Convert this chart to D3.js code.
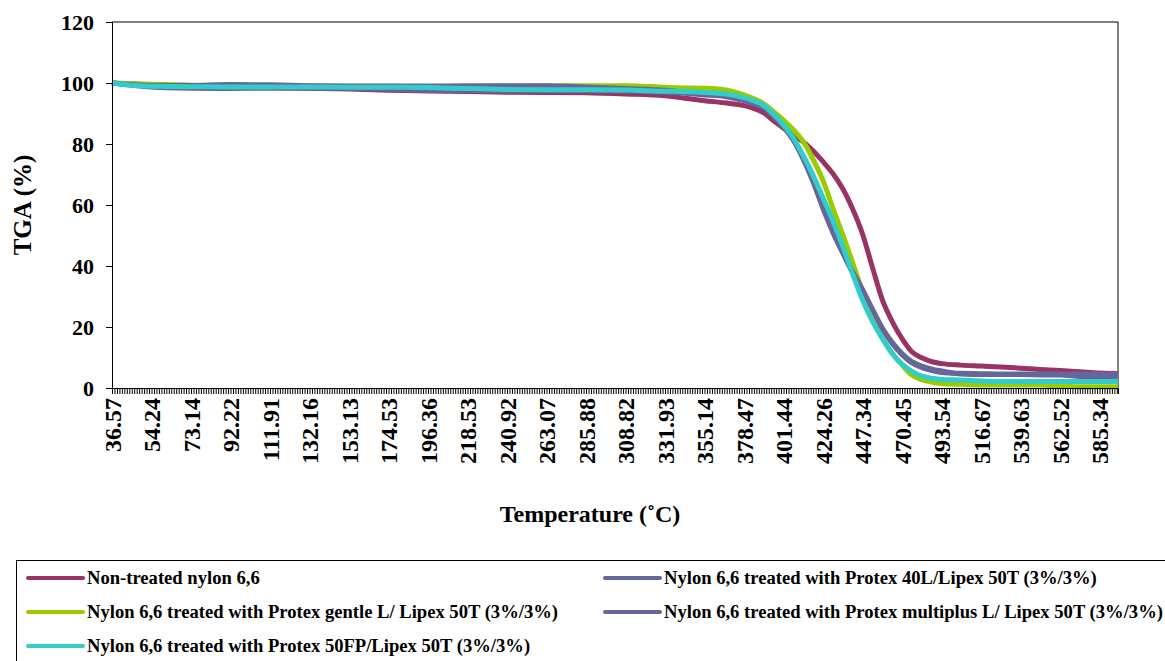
<!DOCTYPE html>
<html>
<head>
<meta charset="utf-8">
<script src="https://cdn.jsdelivr.net/npm/d3@7"></script>
<style>
  html, body { margin: 0; padding: 0; background: #fff; }
  svg { display: block; }
</style>
</head>
<body>
<svg id="chart" width="1165" height="661"></svg>
<script>
// ---- Data ----
const tickLabels = ["36.57","54.24","73.14","92.22","111.91","132.16","153.13","174.53","196.36","218.53","240.92","263.07","285.88","308.82","331.93","355.14","378.47","401.44","424.26","447.34","470.45","493.54","516.67","539.63","562.52","585.34"];
const yTicks = [0, 20, 40, 60, 80, 100, 120];

const temperatures = [36.57, 54.24, 73.14, 92.22, 111.91, 132.16, 153.13, 174.53, 196.36, 218.53, 240.92, 263.07, 285.88, 308.82, 331.93, 343.5, 355.14, 367, 378.47, 384, 390, 395.7, 401.44, 407, 413, 418.5, 424.26, 430, 435.8, 441.5, 447.34, 453, 459, 464.7, 470.45, 476, 482, 488, 493.54, 505, 516.67, 528, 539.63, 551, 562.52, 574, 585.34, 596];

const nonTreated = [100, 99.3, 99.0, 98.7, 98.5, 98.3, 98.0, 97.6, 97.4, 97.2, 97.0, 96.9, 96.8, 96.4, 95.8, 95.0, 94.2, 93.5, 92.6, 91.7, 90.2, 87.6, 85.2, 83.0, 80.6, 77.8, 74.2, 70.3, 65.3, 58.8, 50.5, 39.8, 28.8, 21.8, 16.2, 12.0, 9.9, 8.6, 8.0, 7.5, 7.2, 6.9, 6.5, 6.1, 5.7, 5.3, 4.9, 4.7];
const protex40L = [100, 98.7, 98.3, 98.2, 98.3, 98.3, 98.2, 98.0, 97.6, 97.5, 97.5, 97.5, 97.5, 97.4, 97.0, 96.6, 96.1, 95.6, 94.2, 93.2, 91.9, 89.0, 85.6, 81.3, 74.8, 67.6, 58.8, 51.0, 44.2, 37.8, 31.8, 25.5, 19.2, 14.6, 10.9, 8.3, 6.7, 5.7, 5.1, 4.8, 4.7, 4.6, 4.6, 4.6, 4.6, 4.6, 4.5, 4.5];
const protexGentle = [100, 99.6, 99.3, 99.1, 99.0, 99.0, 98.9, 98.9, 98.8, 98.8, 98.9, 99.0, 99.1, 99.1, 98.6, 98.4, 98.3, 97.8, 96.1, 94.9, 93.2, 90.6, 87.8, 84.8, 80.6, 75.0, 68.0, 59.0, 50.3, 41.2, 31.5, 22.5, 16.3, 11.4, 7.6, 4.3, 2.7, 1.9, 1.5, 1.2, 1.0, 1.0, 1.0, 1.0, 0.7, 0.4, 0.4, 0.4];
const protexMultiplus = [100, 99.2, 99.2, 99.5, 99.4, 99.1, 99.0, 99.0, 99.0, 99.1, 99.1, 99.1, 98.7, 98.2, 97.6, 97.0, 96.4, 95.8, 94.4, 93.4, 92.0, 89.2, 85.8, 81.6, 75.4, 68.2, 59.5, 51.5, 44.5, 38.2, 32.3, 26.0, 19.6, 15.0, 11.3, 8.7, 7.2, 6.2, 5.6, 4.6, 4.4, 4.4, 4.4, 4.3, 4.3, 3.8, 3.7, 3.7];
const protex50FP = [100, 98.9, 98.8, 98.7, 98.7, 98.7, 98.6, 98.6, 98.5, 98.2, 97.9, 97.8, 97.8, 97.7, 97.3, 97.2, 96.9, 96.5, 95.2, 94.2, 92.6, 89.8, 86.3, 82.1, 76.0, 69.7, 62.3, 54.8, 46.5, 37.5, 28.8, 22.0, 16.2, 11.3, 7.8, 5.5, 3.9, 3.2, 2.8, 2.6, 2.3, 2.1, 2.1, 2.1, 2.1, 2.1, 2.1, 2.1];

const seriesNames = [
  "Non-treated nylon 6,6",
  "Nylon 6,6 treated with Protex 40L/Lipex 50T (3%/3%)",
  "Nylon 6,6 treated with Protex gentle L/ Lipex 50T (3%/3%)",
  "Nylon 6,6 treated with Protex multiplus L/ Lipex 50T (3%/3%)",
  "Nylon 6,6 treated with Protex 50FP/Lipex 50T (3%/3%)"
];
const seriesColors = ["#993366", "#666699", "#99CC00", "#666699", "#33CCCC"];
const seriesValues = [nonTreated, protex40L, protexGentle, protexMultiplus, protex50FP];

const FONT = "'Liberation Serif', 'Times New Roman', Tinos, 'DejaVu Serif', serif";

// ---- Layout ----
const svg = d3.select("#chart");
const plot = { left: 112, right: 1118, top: 22, bottom: 388 };

const tickTemps = tickLabels.map(Number);
const tempToIndex = d3.scaleLinear().domain(tickTemps).range(d3.range(tickTemps.length));
const lastIndex = tempToIndex(temperatures[temperatures.length - 1]);
const xIdx = d3.scaleLinear().domain([0, lastIndex]).range([plot.left, plot.right]);
const x = t => xIdx(tempToIndex(t));
const y = d3.scaleLinear().domain([0, 120]).range([plot.bottom, plot.top]);

svg.append("rect").attr("width", 1165).attr("height", 661).attr("fill", "#fff");

svg.append("path")
  .attr("d", `M${plot.left},${plot.top}H${plot.right}V${plot.bottom}`)
  .attr("fill", "none").attr("stroke", "#000").attr("stroke-width", 1);

const line = d3.line().x((d, i) => x(temperatures[i])).y(d => y(d)).curve(d3.curveMonotoneX);
seriesValues.forEach((vals, k) => {
  svg.append("path").datum(vals)
    .attr("d", line)
    .attr("fill", "none")
    .attr("stroke", seriesColors[k])
    .attr("stroke-width", 5)
    .attr("stroke-linejoin", "round");
});

function styleText(sel, size) {
  sel.attr("font-family", FONT).attr("font-weight", "bold").attr("font-size", size).attr("fill", "#000");
}

// y axis
const yAxis = svg.append("g").attr("transform", `translate(${plot.left},0)`)
  .call(d3.axisLeft(y).tickValues(yTicks).tickSize(6).tickPadding(12).tickFormat(d3.format("d")));
yAxis.attr("font-family", FONT);
yAxis.select(".domain").attr("stroke", "#000");
yAxis.selectAll("line").attr("stroke", "#000");
styleText(yAxis.selectAll("text"), 22);

// x axis: dense category ticks
const minorTicks = d3.range(0, lastIndex + 1e-9, 1 / 16);
const xAxisMinor = svg.append("g").attr("transform", `translate(0,${plot.bottom})`)
  .call(d3.axisBottom(xIdx).tickValues(minorTicks).tickSize(6).tickFormat(""));
xAxisMinor.select(".domain").attr("stroke", "#000");
xAxisMinor.selectAll("line").attr("stroke", "#000");

// x labels
const xAxisLabels = svg.append("g").attr("transform", `translate(0,${plot.bottom})`)
  .call(d3.axisBottom(xIdx).tickValues(d3.range(tickLabels.length)).tickSize(0).tickFormat(i => tickLabels[i]));
xAxisLabels.attr("font-family", FONT);
xAxisLabels.select(".domain").remove();
styleText(xAxisLabels.selectAll("text"), 24);
xAxisLabels.selectAll("text")
  .attr("transform", "rotate(-90)")
  .attr("text-anchor", "end")
  .attr("x", -10).attr("y", 0).attr("dy", "0.35em");

// axis titles
styleText(svg.append("text").attr("x", 590).attr("y", 522)
  .attr("text-anchor", "middle").text("Temperature (˚C)"), 24);
styleText(svg.append("text")
  .attr("transform", "translate(31,205) rotate(-90)")
  .attr("text-anchor", "middle").text("TGA (%)"), 25);

// legend
svg.append("rect").attr("x", 16.5).attr("y", 560.5).attr("width", 1160).attr("height", 120)
  .attr("fill", "none").attr("stroke", "#000").attr("stroke-width", 1);
const legCols = [28, 605];
const legRows = [578, 612, 646];
seriesNames.forEach((name, k) => {
  const cx = legCols[k % 2], cy = legRows[Math.floor(k / 2)];
  const g = svg.append("g").attr("transform", `translate(${cx},${cy})`);
  g.append("line").attr("x1", 0).attr("x2", 55).attr("y1", 0).attr("y2", 0)
    .attr("stroke", seriesColors[k]).attr("stroke-width", 4).attr("stroke-linecap", "round");
  styleText(g.append("text").attr("x", 59).attr("y", 6).text(name), 18.6);
});
</script>
</body>
</html>
